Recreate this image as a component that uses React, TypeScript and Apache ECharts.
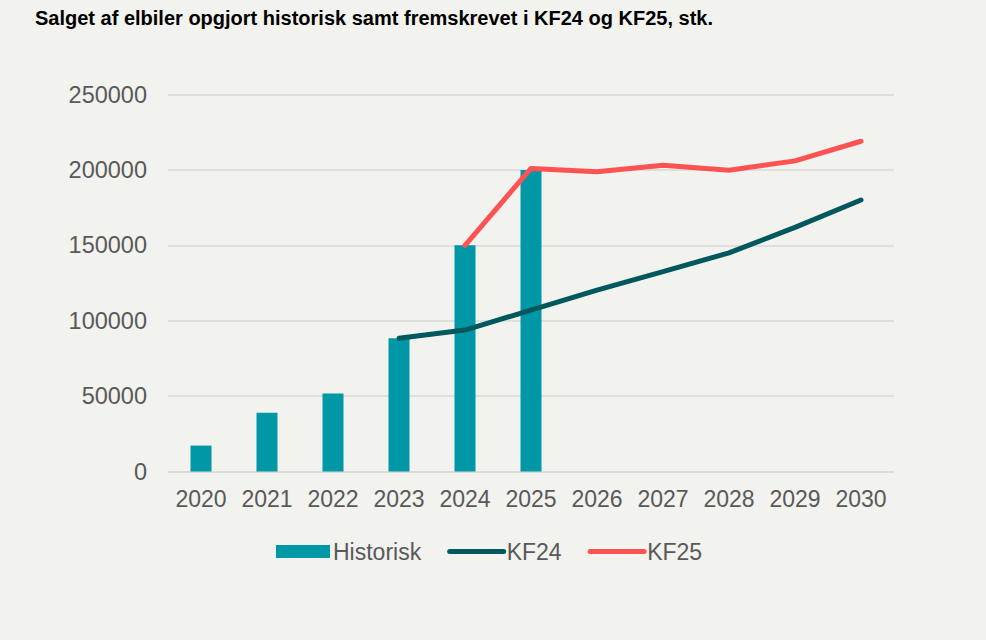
import React, { useEffect, useRef } from "react";
import * as echarts from "echarts";

const years = ["2020", "2021", "2022", "2023", "2024", "2025", "2026", "2027", "2028", "2029", "2030"];
const historisk: (number | null)[] = [17200, 39000, 51800, 88300, 150000, 200000, null, null, null, null, null];
const kf24: (number | null)[] = [null, null, null, 88300, 93800, 107000, 120300, 132500, 145000, 161900, 180000];
const kf25: (number | null)[] = [null, null, null, null, 150000, 201000, 198700, 203100, 199800, 206000, 219000];

const title = "Salget af elbiler opgjort historisk samt fremskrevet i KF24 og KF25, stk.";

export default function App() {
  const ref = useRef<HTMLDivElement>(null);
  useEffect(() => {
    if (!ref.current) return;
    const chart = echarts.init(ref.current, undefined, { renderer: "svg" });
    const font = "'Liberation Sans', Arial, sans-serif";
    chart.setOption({
      animation: false,
      backgroundColor: "#f2f2ee",
      textStyle: { fontFamily: font },
      title: {
        text: title,
        left: 30,
        top: 3,
        textStyle: { fontFamily: font, fontSize: 20, fontWeight: "bold", color: "#000" },
      },
      grid: { left: 168, right: 92, top: 94.5, bottom: 168.5, containLabel: false },
      legend: {
        top: 535,
        left: 271,
        itemWidth: 54,
        itemHeight: 13,
        itemGap: 26,
        textStyle: { fontFamily: font, fontSize: 23, color: "#595959", padding: [0, 0, 0, -2] },
        data: [
          { name: "Historisk", icon: "rect" },
          { name: "KF24", itemStyle: { opacity: 0 }, lineStyle: { width: 5, cap: "round" } },
          { name: "KF25", itemStyle: { opacity: 0 }, lineStyle: { width: 5, cap: "round" } },
        ],
      },
      xAxis: {
        type: "category",
        data: years,
        axisLine: { lineStyle: { color: "#d9d9d9", width: 1.5 } },
        axisTick: { show: false },
        axisLabel: { fontFamily: font, fontSize: 23, color: "#595959", margin: 16, interval: 0 },
      },
      yAxis: {
        type: "value",
        min: 0,
        max: 250000,
        interval: 50000,
        axisLine: { show: false },
        axisTick: { show: false },
        splitLine: { lineStyle: { color: "#d9d9d9", width: 1.5 } },
        axisLabel: {
          fontFamily: font,
          fontSize: 23.5,
          color: "#595959",
          margin: 21,
          formatter: (v: number) => String(v),
        },
      },
      series: [
        {
          name: "Historisk",
          type: "bar",
          data: historisk,
          barWidth: 21,
          itemStyle: { color: "#0097a7" },
        },
        {
          name: "KF24",
          type: "line",
          data: kf24,
          symbol: "none",
          lineStyle: { color: "#00585f", width: 5, cap: "round", join: "round" },
          itemStyle: { color: "#00585f" },
        },
        {
          name: "KF25",
          type: "line",
          data: kf25,
          symbol: "none",
          lineStyle: { color: "#ff5252", width: 5, cap: "round", join: "round" },
          itemStyle: { color: "#ff5252" },
        },
      ],
    });
    return () => chart.dispose();
  }, []);
  return <div ref={ref} style={{ width: 986, height: 640, position: "absolute", left: 0, top: 0 }} />;
}
